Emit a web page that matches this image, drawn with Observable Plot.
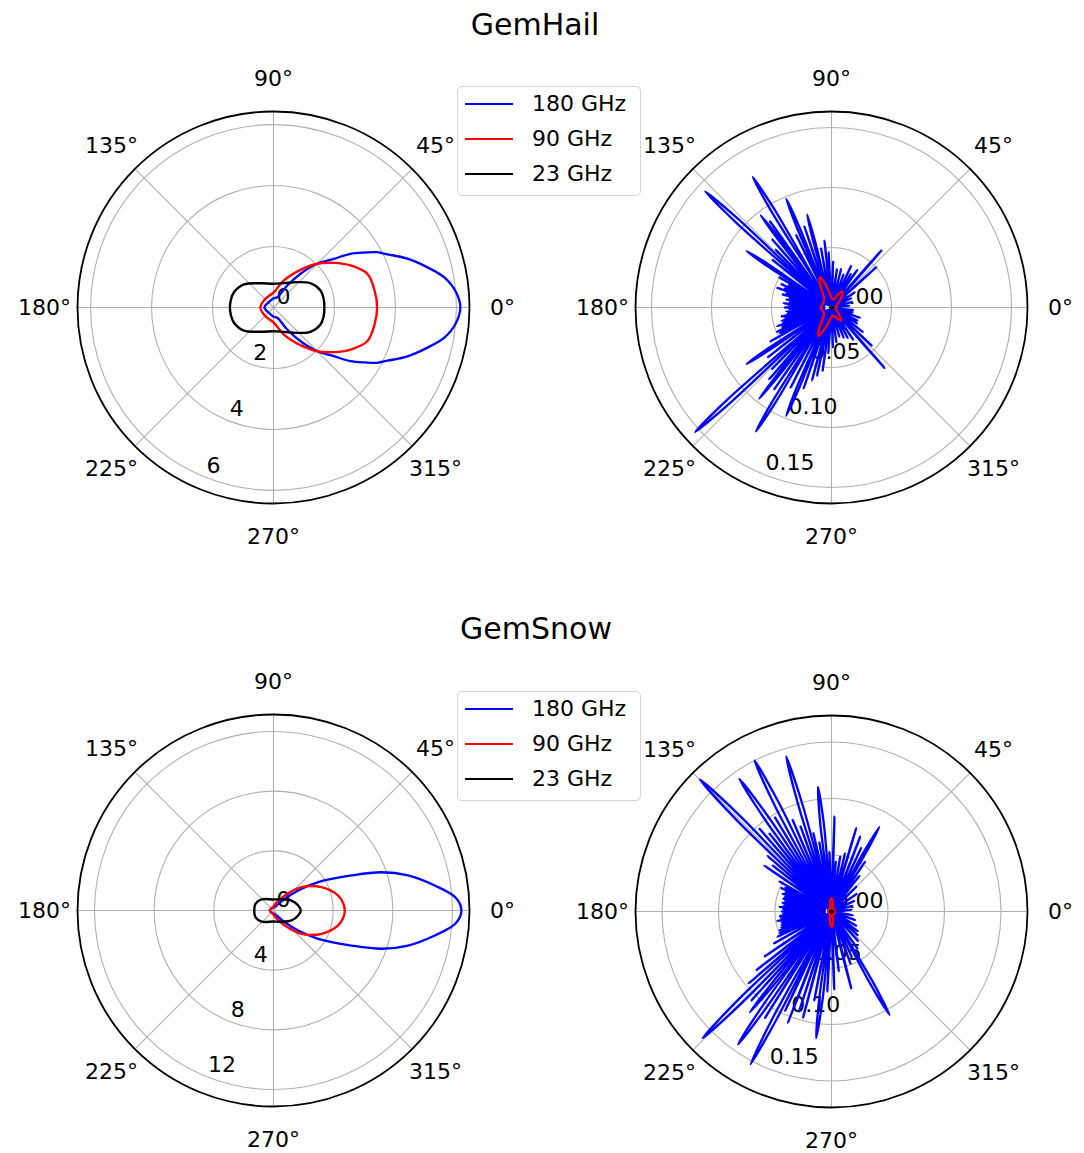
<!DOCTYPE html>
<html>
<head>
<meta charset="utf-8">
<script src="https://cdn.jsdelivr.net/npm/d3@7"></script>
<script src="https://cdn.jsdelivr.net/npm/@observablehq/plot@0.6"></script>
<style>
html,body{margin:0;padding:0;background:#fff;}
#root{position:relative;width:1084px;height:1153px;overflow:hidden;font-family:"DejaVu Sans",sans-serif;color:#000;}
.panel{position:absolute;width:500px;height:500px;}
.title{position:absolute;width:300px;text-align:center;font-size:30px;line-height:30px;}
.legend{position:absolute;width:182px;height:108px;border:1px solid #d5d5d5;border-radius:5px;background:#fff;}
.legend .row{position:absolute;left:0;width:182px;height:30px;}
.legend .sw{position:absolute;left:7px;top:14px;width:48px;height:0;border-top:2.5px solid;}
.legend .lb{position:absolute;left:74px;top:0;font-size:22px;line-height:30px;white-space:nowrap;}
</style>
</head>
<body>
<div id="root"></div>
<script>
// ---------------- data ----------------
const titles = ["GemHail", "GemSnow"];
const freqs = ["180 GHz", "90 GHz", "23 GHz"];
const angleTicks = [0, 45, 90, 135, 180, 225, 270, 315];

// left panels: upper half [angle°, value]; the pattern is mirror-symmetric about 0°
const hail180 = [[0,6.13],[5,6.00],[10,5.69],[15,5.18],[20,4.68],[25,4.13],[28.1,3.85],[31,3.50],[34.9,3.08],[38.9,2.54],[45,2.03],[51.3,1.42],[58,0.85],[70,0.36],[90,0.30],[135,0.23],[180,0.30]];
const hail90  = [[0,3.40],[10,3.36],[19.8,3.27],[28.6,2.88],[36.5,2.46],[45,2.03],[54.4,1.52],[69,0.95],[89,0.50],[135,0.39],[180,0.43]];
const hail23  = [[0,1.67],[10,1.67],[19.9,1.64],[33.3,1.45],[46.9,1.14],[67,0.87],[90,0.78],[118,0.90],[142,1.23],[159,1.39],[170,1.42],[180,1.43]];

const snow180 = [[0,12.6],[4,12.25],[8.8,10.94],[14.6,9.32],[19.5,7.68],[24.2,5.73],[32.4,3.55],[39,2.13],[46,1.09],[60,0.40],[90,0.20],[135,0.20],[180,0.25]];
const snow90  = [[0,4.78],[6,4.70],[13,4.45],[25.9,3.58],[39.8,2.44],[53,1.26],[70,0.54],[90,0.27],[180,0.25]];
const snow23  = [[0,1.83],[11.5,1.69],[29,1.38],[60,0.87],[90,0.74],[137,1.09],[160,1.29],[180,1.29]];

// right panels: full circle [angle°, value]
const hailB180 = [[0,.004],[5,.015],[10,.003],[15,.017],[20,.003],[25,.018],[29,.003],[33,.023],[37.5,.003],[42,.050],[45.4,.003],[48.8,.063],[52.2,.003],[55.6,.038],[57.8,.003],[60,.032],[62.3,.003],[64.7,.038],[67.3,.003],[70,.029],[73,.003],[76,.033],[79,.003],[82,.032],[85,.003],[88,.038],[90.5,.003],[93,.046],[94.5,.003],[96,.056],[98,.003],[100,.050],[102.3,.003],[104.0,.060],[104.7,.080],[105.4,.060],[106.6,.003],[108.5,.071],[110.5,.003],[111.8,.074],[112.6,.098],[113.4,.074],[114.3,.003],[116,.067],[118.5,.003],[120.2,.095],[121.1,.127],[122.0,.095],[123.3,.003],[125.5,.088],[126.5,.004],[126.9,.073],[127.5,.097],[128.2,.073],[129.3,.003],[131,.075],[132.5,.003],[134,.067],[135.7,.003],[136.5,.107],[137.4,.143],[138.3,.107],[139.2,.003],[141,.063],[143.7,.003],[145.6,.064],[146.4,.085],[147.2,.064],[148.2,.003],[150,.050],[151.2,.006],[152.5,.040],[153.8,.006],[155,.046],[156.2,.006],[157.5,.042],[158.8,.006],[160,.048],[161.2,.006],[162.5,.040],[163.8,.006],[165,.042],[166.2,.006],[167.5,.036],[168.8,.006],[170,.038],[171.2,.006],[172.5,.035],[173.8,.006],[175,.040],[176.2,.006],[177.5,.036],[178.8,.006],[180,.039],[181.2,.006],[182.5,.035],[183.8,.006],[185,.038],[186.2,.006],[187.5,.037],[188.8,.006],[190,.042],[191.2,.006],[192.5,.040],[193.8,.006],[195,.043],[196,.006],[197,.042],[198,.006],[199,.048],[200.2,.006],[201.5,.044],[202.8,.006],[204,.050],[205.2,.006],[206.5,.048],[207.8,.006],[209,.058],[211.3,.003],[212.8,.064],[213.6,.085],[214.4,.064],[215.8,.003],[218,.067],[220.2,.003],[221.5,.115],[222.4,.154],[223.3,.115],[224.2,.003],[226,.071],[227.5,.003],[229,.079],[230.3,.003],[231.0,.073],[231.6,.097],[232.3,.073],[233.3,.003],[235,.083],[236.8,.003],[237.8,.091],[238.6,.121],[239.5,.091],[240.8,.003],[243,.075],[245.1,.003],[246.5,.074],[247.3,.098],[248.1,.074],[249.2,.003],[251,.071],[253,.003],[255,.063],[256.5,.003],[258,.058],[260,.003],[262,.053],[264,.003],[266,.038],[269,.003],[272,.033],[275,.003],[278,.029],[281.5,.003],[285,.025],[288.5,.003],[292,.027],[295,.003],[298,.029],[301,.003],[304,.032],[307.6,.003],[311.3,.067],[313.9,.003],[316.5,.046],[319.2,.003],[322,.033],[325,.003],[328,.025],[330.5,.003],[333,.024],[336.5,.003],[340,.025],[343.5,.003],[347,.018],[350,.003],[353,.018],[356.5,.003],[360,.004]];
const hailB90 = [[0,.004],[15,.004],[30,.006],[42,.010],[50,.014],[57,.016],[64,.012],[75,.007],[90,.008],[100,.014],[106,.022],[111,.027],[116,.022],[124,.012],[140,.008],[160,.008],[180,.009],[200,.008],[220,.008],[232,.012],[240,.021],[245.6,.026],[251,.020],[260,.012],[275,.007],[290,.008],[300,.011],[307,.0135],[314,.010],[325,.006],[345,.004]];
const hailB23 = [[0,.0012],[90,.0010],[180,.0012],[270,.0010]];

const snowB180 = [[0,.004],[5,.018],[10,.003],[15,.019],[20,.003],[25,.022],[30,.003],[35,.027],[40,.003],[45,.031],[48.5,.003],[52,.040],[54,.003],[56,.053],[58.2,.003],[59.6,.060],[60.5,.086],[61.5,.060],[62.8,.003],[65,.062],[67,.003],[69,.071],[71.2,.003],[73.5,.077],[75.2,.003],[77,.053],[79,.003],[81,.049],[83,.003],[85,.044],[86.6,.003],[88.2,.084],[90.1,.003],[92,.053],[94.1,.003],[95.0,.078],[96.2,.111],[97.3,.078],[98.1,.003],[100,.062],[101.5,.003],[103,.071],[104.6,.003],[105.2,.100],[106.3,.143],[107.3,.100],[108.1,.003],[110,.080],[111.5,.003],[113,.088],[115,.003],[115.8,.105],[117,.150],[118.2,.105],[119,.003],[121,.097],[122.9,.003],[123.7,.100],[124.8,.143],[125.9,.100],[126.6,.003],[128.5,.088],[129.8,.003],[131,.097],[133,.003],[133.7,.115],[134.9,.165],[136.1,.115],[137,.003],[139,.075],[140.5,.003],[142,.066],[143.8,.003],[145.7,.072],[147.9,.003],[150,.053],[151.2,.006],[152.5,.046],[153.8,.006],[155,.049],[156.2,.006],[157.5,.044],[158.8,.006],[160,.046],[161.2,.006],[162.5,.043],[163.8,.006],[165,.044],[166.2,.006],[167.5,.042],[168.8,.006],[170,.044],[171.2,.006],[172.5,.043],[173.8,.006],[175,.046],[176.2,.006],[177.5,.043],[178.8,.006],[180,.044],[181.2,.006],[182.5,.043],[183.8,.006],[185,.046],[186.2,.006],[187.5,.045],[188.8,.006],[190,.049],[191.2,.006],[192.5,.045],[193.8,.006],[195,.046],[196.2,.006],[197.5,.047],[198.8,.006],[200,.049],[201.2,.006],[202.5,.050],[203.8,.006],[205,.053],[207,.004],[209,.058],[211.5,.003],[213.9,.071],[216,.003],[218,.084],[219.5,.003],[221,.097],[222.8,.003],[223.4,.112],[224.5,.160],[225.6,.112],[226.3,.003],[228,.106],[229.5,.003],[230.2,.080],[231,.115],[231.9,.080],[233,.003],[233.8,.101],[234.9,.144],[235.9,.101],[236.5,.003],[238,.111],[240,.003],[241.1,.107],[242.1,.153],[243.0,.107],[243.5,.003],[245,.097],[246.8,.003],[248.6,.106],[250.3,.003],[252,.093],[253.5,.003],[255,.097],[257,.003],[259,.080],[261,.003],[262.0,.079],[263.1,.113],[264.2,.079],[265,.003],[267,.071],[269.5,.003],[272,.069],[274.5,.003],[277,.053],[280.7,.003],[284.4,.070],[287.2,.003],[290,.049],[292,.003],[294,.044],[296.6,.003],[298.2,.074],[299.3,.105],[300.4,.074],[302,.003],[305,.040],[308.5,.003],[312,.035],[315,.003],[318,.031],[320.5,.003],[323,.029],[326.5,.003],[330,.025],[335,.003],[340,.022],[345,.003],[350,.019],[355,.003],[360,.004]];
const snowB90 = [[0,.003],[45,.003],[70,.003],[78,.006],[84,.010],[90,.012],[96,.010],[102,.006],[110,.003],[135,.003],[180,.003],[225,.003],[250,.003],[258,.007],[264,.011],[270,.014],[276,.011],[282,.007],[290,.003],[315,.003]];
const snowB23 = [[0,.0012],[90,.0010],[180,.0012],[270,.0010]];

// ---------------- layout / style ----------------
const colors = ["#0000ff", "#ff0000", "#000000"];
const R = 196;       // px radius of the polar frame
const HALF = 250;    // half-size of each panel svg
const LABEL_R = 229; // px radius of the angle labels
const FONT = "DejaVu Sans";

const mirror = half => [...half, ...half.slice(1, -1).reverse().map(([a, r]) => [360 - a, r])];

const panels = [
  {cx: 273, cy: 307, rmax: 6.43, ticks: [0, 2, 4, 6], fmt: d3.format("d"), series: [hail180, hail90, hail23].map(mirror), curves: ["catmull-rom-closed", "catmull-rom-closed", "catmull-rom-closed"]},
  {cx: 831, cy: 307, rmax: 0.1633, ticks: [0, 0.05, 0.10, 0.15], fmt: d3.format(".2f"), series: [hailB180, hailB90, hailB23], curves: ["catmull-rom", "catmull-rom-closed", "catmull-rom-closed"]},
  {cx: 273, cy: 910, rmax: 13.14, ticks: [0, 4, 8, 12], fmt: d3.format("d"), series: [snow180, snow90, snow23].map(mirror), curves: ["catmull-rom-closed", "catmull-rom-closed", "catmull-rom-closed"]},
  {cx: 831, cy: 911, rmax: 0.1735, ticks: [0, 0.05, 0.10, 0.15], fmt: d3.format(".2f"), series: [snowB180, snowB90, snowB23], curves: ["catmull-rom", "catmull-rom-closed", "catmull-rom-closed"]}
];

const rad = a => a * Math.PI / 180;
const px = d => d[1] * Math.cos(rad(d[0]));
const py = d => d[1] * Math.sin(rad(d[0]));

const root = document.getElementById("root");

panels.forEach(p => {
  const ext = p.rmax * HALF / R;
  const k = p.rmax / R; // data units per px
  const marks = [];
  // radial spokes
  marks.push(Plot.link(angleTicks, {x1: 0, y1: 0, x2: a => p.rmax * Math.cos(rad(a)), y2: a => p.rmax * Math.sin(rad(a)), stroke: "#b0b0b0", strokeWidth: 1.1}));
  // grid circles
  p.ticks.filter(t => t > 0).forEach(t => {
    marks.push(Plot.dot([t], {x: 0, y: 0, r: t / p.rmax * R, stroke: "#b0b0b0", strokeWidth: 1.1, fill: "none"}));
  });
  // radial tick labels
  marks.push(Plot.text(p.ticks, {x: t => t * Math.cos(rad(247.5)), y: t => t * Math.sin(rad(247.5)), text: p.fmt, textAnchor: "start", dx: 3, dy: -11, fontSize: 22, fill: "#000"}));
  // data lines
  p.series.forEach((s, i) => {
    marks.push(Plot.line(s, {x: px, y: py, stroke: colors[i], strokeWidth: i === 0 ? 2.3 : 2.4, curve: p.curves[i], strokeLinejoin: "round"}));
  });
  // outer frame
  marks.push(Plot.dot([p.rmax], {x: 0, y: 0, r: R, stroke: "#000", strokeWidth: 1.8, fill: "none"}));
  // angle labels
  marks.push(Plot.text(angleTicks, {x: a => LABEL_R * k * Math.cos(rad(a)), y: a => LABEL_R * k * Math.sin(rad(a)), text: a => a + "°", fontSize: 22, fill: "#000"}));

  const svg = Plot.plot({
    width: 2 * HALF, height: 2 * HALF, margin: 0,
    x: {domain: [-ext, ext], axis: null},
    y: {domain: [-ext, ext], axis: null},
    style: {fontFamily: FONT, fontSize: "22px", background: "transparent", overflow: "visible"},
    marks
  });
  const div = document.createElement("div");
  div.className = "panel";
  div.style.left = (p.cx - HALF) + "px";
  div.style.top = (p.cy - HALF) + "px";
  div.appendChild(svg);
  root.appendChild(div);
});

// titles
[[titles[0], 535, 10], [titles[1], 536, 614]].forEach(([t, x, y]) => {
  const d = document.createElement("div");
  d.className = "title";
  d.textContent = t;
  d.style.left = (x - 150) + "px";
  d.style.top = y + "px";
  root.appendChild(d);
});

// legends
[86, 691].forEach(top => {
  const lg = document.createElement("div");
  lg.className = "legend";
  lg.style.left = "457px";
  lg.style.top = top + "px";
  freqs.forEach((f, i) => {
    const row = document.createElement("div");
    row.className = "row";
    row.style.top = (2 + i * 35) + "px";
    const sw = document.createElement("div");
    sw.className = "sw";
    sw.style.borderColor = colors[i];
    const lb = document.createElement("div");
    lb.className = "lb";
    lb.textContent = f;
    row.appendChild(sw); row.appendChild(lb);
    lg.appendChild(row);
  });
  root.appendChild(lg);
});
</script>
</body>
</html>
